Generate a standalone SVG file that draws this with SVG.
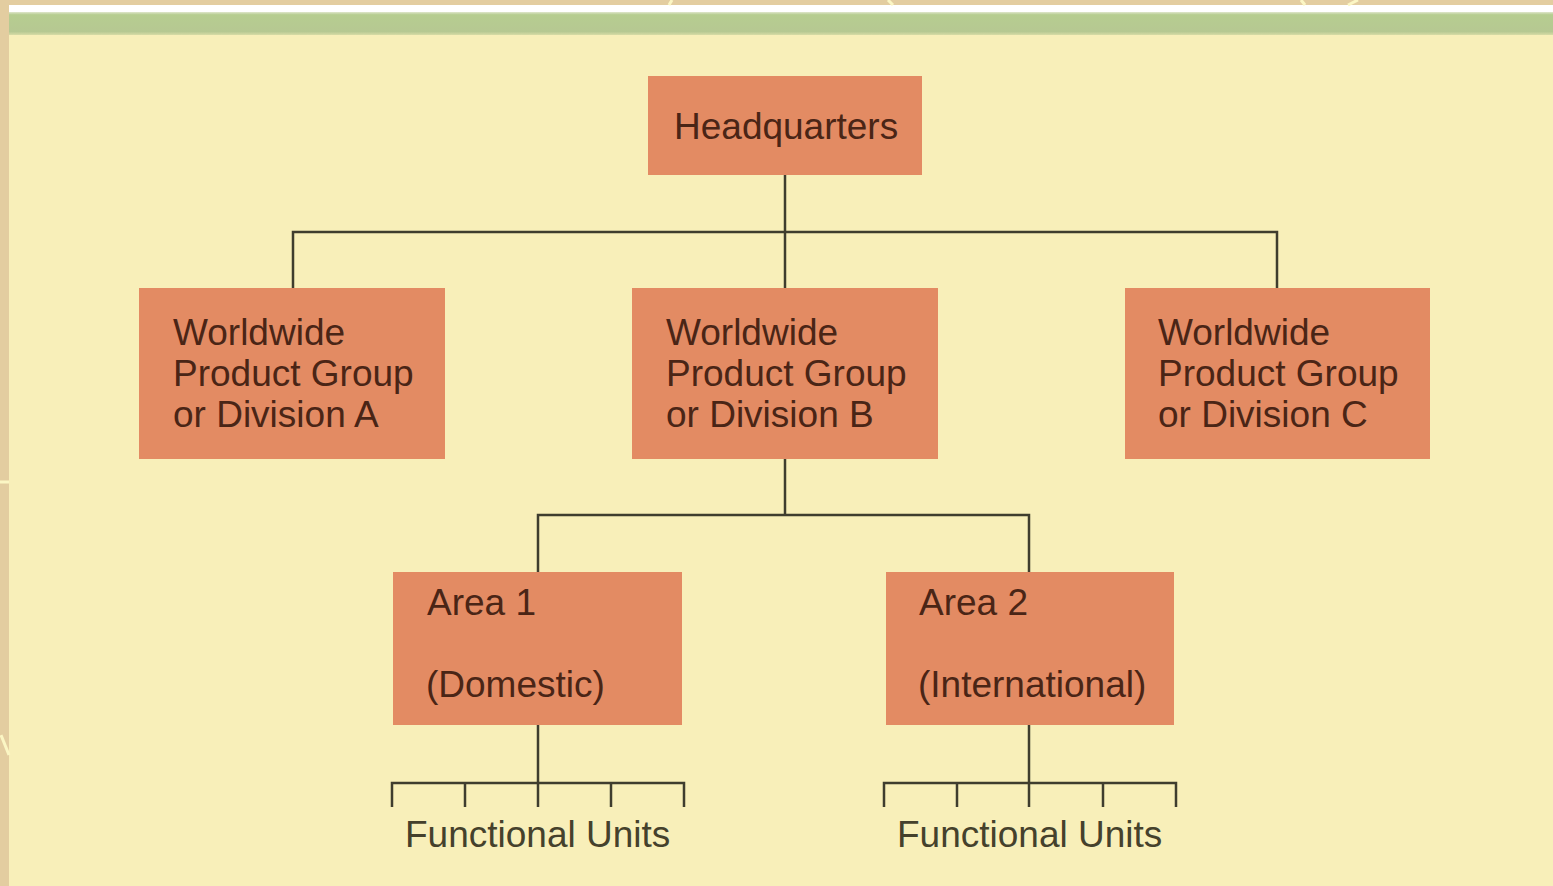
<svg xmlns="http://www.w3.org/2000/svg" width="1553" height="886" viewBox="0 0 1553 886">
  <defs>
    <linearGradient id="band" x1="0" y1="0" x2="0" y2="1">
      <stop offset="0" stop-color="#dfe6cc"/>
      <stop offset="0.12" stop-color="#b6cd90"/>
      <stop offset="0.85" stop-color="#b6c892"/>
      <stop offset="1" stop-color="#d8dca6"/>
    </linearGradient>
  </defs>
  <style>
    .box { fill: #e38b63; }
    .lbl { font-family: "Liberation Sans", Arial, Helvetica, sans-serif; font-size: 37px; fill: #4a2516; }
    .fu { font-family: "Liberation Sans", Arial, Helvetica, sans-serif; font-size: 37px; fill: #45412c; }
    .conn { fill: none; stroke: #3f3d2e; stroke-width: 2.5; stroke-linecap: butt; }
  </style>

  <!-- background -->
  <rect x="0" y="0" width="1553" height="886" fill="#f8efb9"/>
  <rect x="0" y="0" width="1553" height="5" fill="#e3cda0"/>
  <rect x="0" y="5" width="1553" height="8" fill="#ffffff"/>
  <rect x="0" y="12" width="1553" height="23" fill="url(#band)"/>
  <rect x="0" y="0" width="9" height="886" fill="#e3cda0"/>
  <g fill="none" stroke="#fbf6c4" stroke-width="3">
    <path d="M672 0 L669 5"/>
    <path d="M888 0 L893 5"/>
    <path d="M1301 0 L1305 5"/>
    <path d="M1358 0 L1348 5"/>
    <path d="M0 482 L9 482"/>
    <path d="M1 735 L9 755"/>
  </g>

  <!-- connectors -->
  <g id="connectors" class="conn">
    <path d="M785 175 V288"/>
    <path d="M293 288 V232 H1277 V288"/>
    <path d="M785 459 V515"/>
    <path d="M538 572 V515 H1029 V572"/>
    <path d="M538 724 V807"/>
    <path d="M392 807 V783 H684 V807"/>
    <path d="M465 783 V807"/>
    <path d="M611 783 V807"/>
    <path d="M1029 724 V807"/>
    <path d="M884 807 V783 H1176 V807"/>
    <path d="M957 783 V807"/>
    <path d="M1103 783 V807"/>
  </g>

  <g id="headquarters">
    <rect class="box" x="648" y="76" width="274" height="99"/>
    <text class="lbl" x="674" y="139">Headquarters</text>
  </g>

  <g id="division-a">
    <rect class="box" x="139" y="288" width="306" height="171"/>
    <text class="lbl" x="173" y="345">Worldwide</text>
    <text class="lbl" x="173" y="386">Product Group</text>
    <text class="lbl" x="173" y="427">or Division A</text>
  </g>

  <g id="division-b">
    <rect class="box" x="632" y="288" width="306" height="171"/>
    <text class="lbl" x="666" y="345">Worldwide</text>
    <text class="lbl" x="666" y="386">Product Group</text>
    <text class="lbl" x="666" y="427">or Division B</text>
  </g>

  <g id="division-c">
    <rect class="box" x="1125" y="288" width="305" height="171"/>
    <text class="lbl" x="1158" y="345">Worldwide</text>
    <text class="lbl" x="1158" y="386">Product Group</text>
    <text class="lbl" x="1158" y="427">or Division C</text>
  </g>

  <g id="area-1">
    <rect class="box" x="393" y="572" width="289" height="153"/>
    <text class="lbl" x="427" y="615">Area 1</text>
    <text class="lbl" x="426" y="697">(Domestic)</text>
  </g>

  <g id="area-2">
    <rect class="box" x="886" y="572" width="288" height="153"/>
    <text class="lbl" x="919" y="615">Area 2</text>
    <text class="lbl" x="918" y="697">(International)</text>
  </g>

  <g id="functional-units-1">
    <text class="fu" x="405" y="847">Functional Units</text>
  </g>

  <g id="functional-units-2">
    <text class="fu" x="897" y="847">Functional Units</text>
  </g>
</svg>
